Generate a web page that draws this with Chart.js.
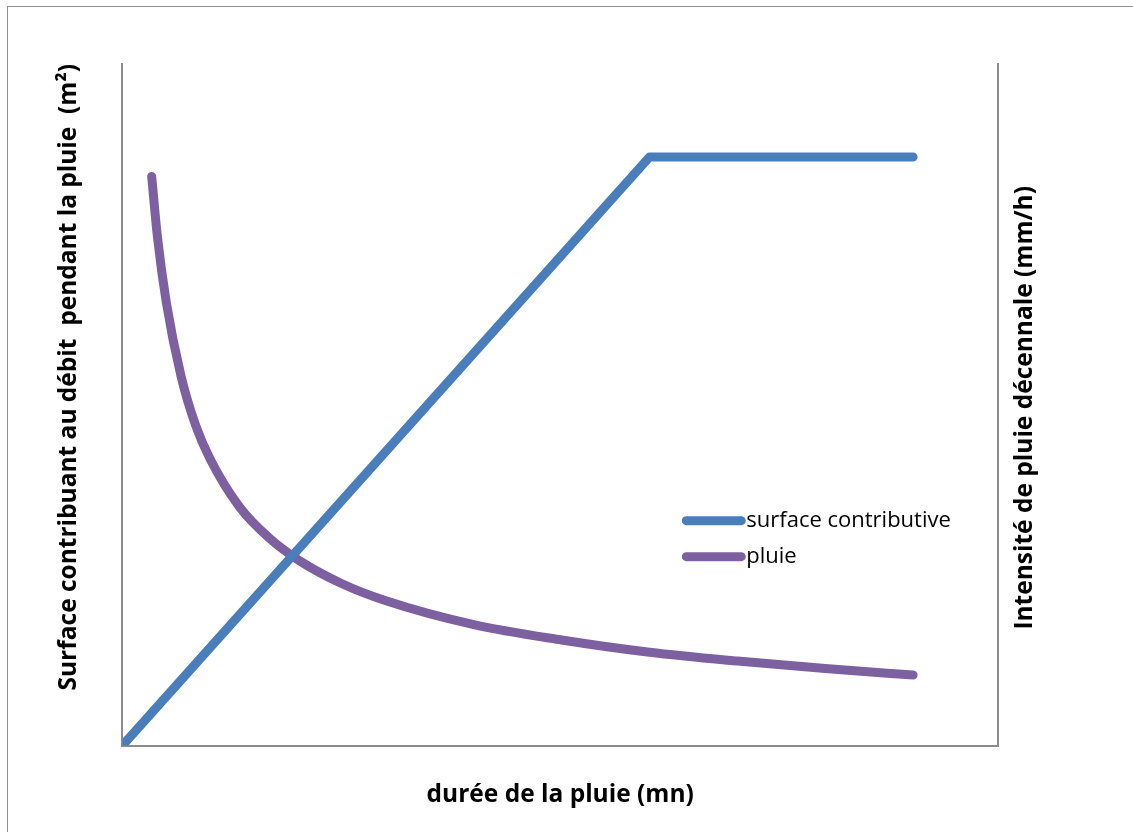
<!DOCTYPE html>
<html>
<head>
<meta charset="utf-8">
<script src="https://cdn.jsdelivr.net/npm/chart.js@4"></script>
<style>
html, body { margin: 0; padding: 0; background: #fff; overflow: hidden; }
#wrap { position: absolute; left: 0; top: 0; width: 1133px; height: 832px; }
#frame { position: absolute; left: 7px; top: 6px; width: 1140px; height: 840px; border: 1.5px solid #8e8e8e; box-sizing: border-box; }
#myChart { position: absolute; left: 0; top: 0; }
</style>
</head>
<body>
<div id="wrap">
  <div id="frame"></div>
  <canvas id="myChart" width="1133" height="832"></canvas>
</div>
<script>
// durée (mn) / surface (m2)
const surfaceTimes = [0, 180, 270]
const surfaceValues = [0, 1900, 1900]
// durée (mn) / intensité (mm/h)
const rainTimes = [10, 12, 15, 20, 25, 30, 40, 50, 60, 75, 90, 120, 150, 180, 210, 240, 270]
const rainValues = [167, 149, 130, 108.5, 94, 84, 70, 61, 54.5, 47.5, 42.5, 35.5, 31, 27.4, 24.8, 22.6, 20.7]
const seriesLabels = ["surface contributive", "pluie"]
const xTitle = "durée de la pluie (mn)"
const yTitle = "Surface contribuant au débit  pendant la pluie  (m²)"
const y2Title = "Intensité de pluie décennale (mm/h)"

const blue = "#4A7EBB"
const purple = "#7D60A0"
const axisGrey = "#8c8c8c"
const titleFont = {family: "Open Sans", size: 24.5, weight: "bold"}

// legend and right-hand title (reads bottom to top, like the left one)
const overlay = {
    id: "overlay",
    afterDraw(chart) {
        const {ctx, chartArea: a} = chart
        const w = a.right - a.left
        const h = a.bottom - a.top

        ctx.save()
        ctx.font = "bold 24.5px 'Open Sans'"
        ctx.fillStyle = "#000"
        ctx.textAlign = "center"
        ctx.textBaseline = "middle"
        ctx.translate(a.right + 27, (a.top + a.bottom) / 2 + 3)
        ctx.rotate(-Math.PI / 2)
        ctx.fillText(y2Title, 0, 0)
        ctx.restore()

        ctx.save()
        ctx.font = "22px 'Open Sans'"
        ctx.textBaseline = "middle"
        ctx.textAlign = "left"
        chart.data.datasets.forEach((ds, i) => {
            const y = a.top + h * 0.67 + i * 36
            const x0 = a.left + w * 0.644
            ctx.strokeStyle = ds.borderColor
            ctx.lineWidth = 9
            ctx.lineCap = "round"
            ctx.beginPath()
            ctx.moveTo(x0, y)
            ctx.lineTo(x0 + 55, y)
            ctx.stroke()
            ctx.fillStyle = "#000"
            ctx.fillText(ds.label, x0 + 60, y)
        })
        ctx.restore()
    }
}

new Chart("myChart", {
    type: "line",
    data: {
        datasets: [{
            label: seriesLabels[0],
            data: surfaceTimes.map((t, i) => ({x: t, y: surfaceValues[i]})),
            borderColor: blue,
            backgroundColor: blue,
            borderWidth: 9,
            borderCapStyle: "round",
            borderJoinStyle: "round",
            pointRadius: 0,
            fill: false,
            tension: 0,
            clip: 0,
            yAxisID: "y",
        },
        {
            label: seriesLabels[1],
            data: rainTimes.map((t, i) => ({x: t, y: rainValues[i]})),
            borderColor: purple,
            backgroundColor: purple,
            borderWidth: 9,
            borderCapStyle: "round",
            borderJoinStyle: "round",
            pointRadius: 0,
            fill: false,
            cubicInterpolationMode: "monotone",
            yAxisID: "y2",
        }]
    },
    options: {
        responsive: false,
        animation: false,
        layout: {padding: {left: 54, right: 135, top: 64, bottom: 22}},
        plugins: {
            legend: {display: false},
            tooltip: {enabled: false}
        },
        scales: {
            x: {
                type: "linear",
                min: 0,
                max: 299,
                grid: {display: false, drawTicks: false},
                border: {display: true, color: axisGrey, width: 2},
                ticks: {display: false},
                title: {display: true, text: xTitle, color: "#000", font: titleFont, padding: {top: 35, bottom: 0}}
            },
            y: {
                position: "left",
                min: 0,
                max: 2200,
                grid: {display: false, drawTicks: false},
                border: {display: true, color: axisGrey, width: 2},
                ticks: {display: false},
                title: {display: true, text: yTitle, align: "end", color: "#000", font: titleFont, padding: {top: 0, bottom: 39}}
            },
            y2: {
                position: "right",
                min: 0,
                max: 200,
                grid: {display: false, drawTicks: false},
                border: {display: true, color: axisGrey, width: 2},
                ticks: {display: false},
                title: {display: false}
            }
        }
    },
    plugins: [overlay]
})
</script>
</body>
</html>
